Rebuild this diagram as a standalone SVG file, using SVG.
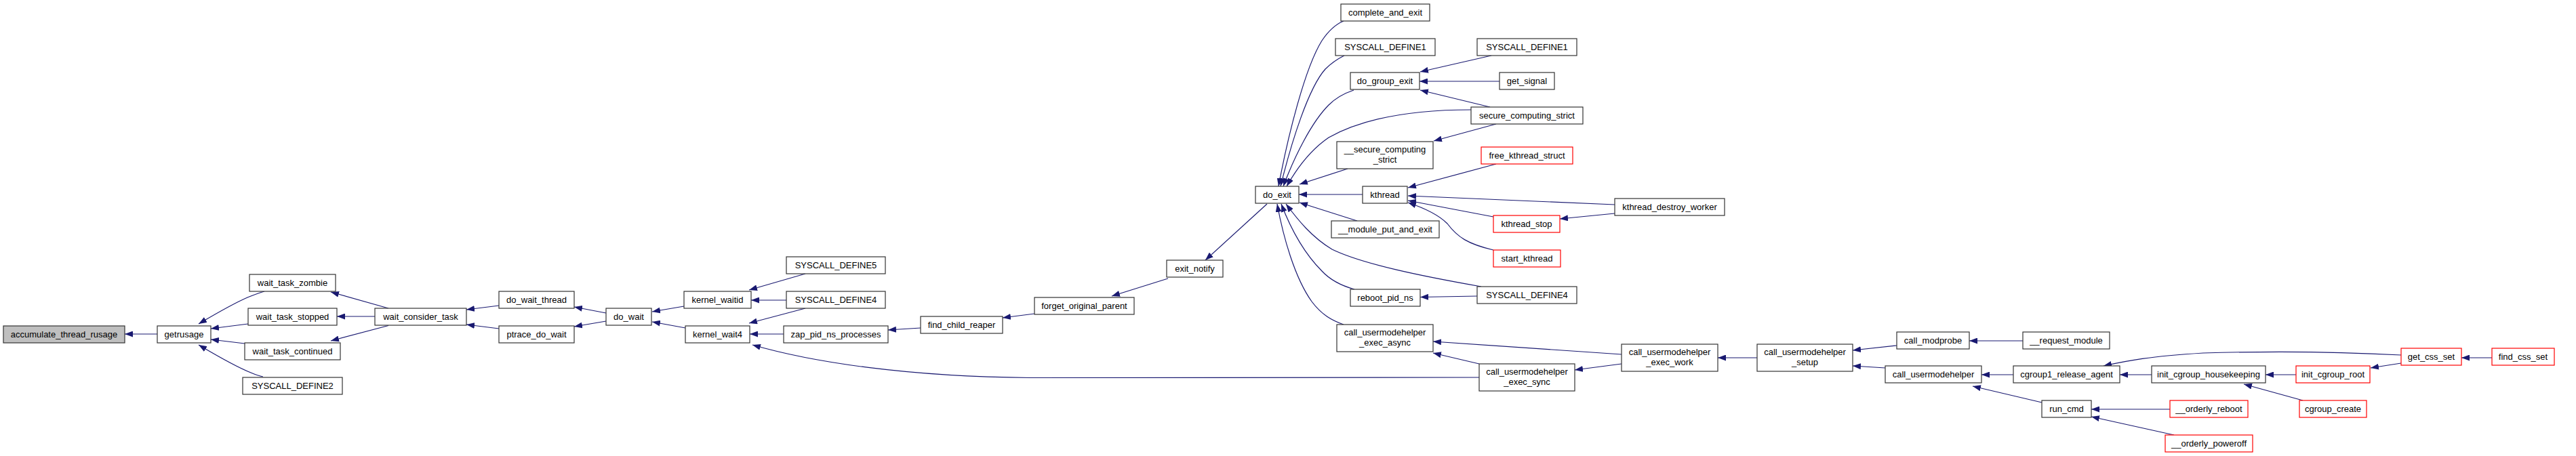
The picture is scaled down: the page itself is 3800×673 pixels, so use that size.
<svg xmlns="http://www.w3.org/2000/svg" width="3800" height="673" viewBox="0 0 3800 673">
<style>
.n rect{fill:#fff;stroke:#333;stroke-width:1.2}
.n.r rect{stroke:#ff0000}
.n.g rect{fill:#bfbfbf}
.n text{font-family:"Liberation Sans",Arial,sans-serif;font-size:13px;fill:#000;text-anchor:middle}
#edges path{fill:none;stroke:#191970;stroke-width:1.2;marker-start:url(#a)}
</style>
<defs>
<marker id="a" markerUnits="userSpaceOnUse" markerWidth="12" markerHeight="9" refX="12" refY="4.5" orient="auto-start-reverse" viewBox="0 0 12 9"><path d="M0,0 L12,4.5 L0,9 z" fill="#191970"/></marker>
</defs>
<rect width="3800" height="673" fill="#fff"/>
<g id="edges">
<path d="M184,493 L232,493"/>
<path d="M293,478 C310,468 340,450 365,439 C375,435 383,432 390,430"/>
<path d="M311,485 L366,478"/>
<path d="M311,501 L361,507"/>
<path d="M293,509 C315,522 345,540 370,550 C377,553 383,555 388,556"/>
<path d="M488,431 L573,455"/>
<path d="M497,467 L553,467"/>
<path d="M488,503 L573,480.5"/>
<path d="M688,457 L736,451"/>
<path d="M688,479 L736,485"/>
<path d="M847,453 L894,462"/>
<path d="M847,482 L894,474"/>
<path d="M962,460 L1009,452"/>
<path d="M962,475 L1011,484"/>
<path d="M1105,428 L1188,404"/>
<path d="M1108,443 L1160,443"/>
<path d="M1105,477 L1188,455"/>
<path d="M1106,493 L1156,493"/>
<path d="M1110,509 C1200,535 1340,556 1520,557.5 L2182,557"/>
<path d="M1310,487 L1358,484"/>
<path d="M1479,469 L1526,463"/>
<path d="M1640,437 L1723,411"/>
<path d="M1778,384 L1869,301"/>
<path d="M1886,275 C1900,200 1925,100 1950,60 C1960,45 1970,36 1982,31"/>
<path d="M1889,275 C1905,210 1930,130 1955,102 C1965,92 1975,86 1983,82"/>
<path d="M1893,275 C1910,230 1935,180 1960,155 C1972,143 1985,137 1997,133"/>
<path d="M1898,275 C1915,245 1935,220 1960,203 C2010,175 2080,162 2170,162"/>
<path d="M1917,272 L1988,249"/>
<path d="M1916,287 L2010,287"/>
<path d="M1917,299 L2002,326"/>
<path d="M1897,301 C1915,325 1935,350 1965,368 C2010,390 2100,408 2185,423"/>
<path d="M1890,301 C1905,340 1925,375 1950,400 C1962,413 1980,422 1998,427"/>
<path d="M1884,301 C1893,350 1910,410 1935,445 C1950,465 1965,473 1982,479"/>
<path d="M2095,106 L2200,82"/>
<path d="M2094,120 L2212,120"/>
<path d="M2095,133 L2198,158"/>
<path d="M2115,208 L2207,183"/>
<path d="M2077,277 L2207,242"/>
<path d="M2077,289 L2382,302"/>
<path d="M2077,296 L2203,320"/>
<path d="M2077,299 C2095,305 2120,315 2135,330 C2150,350 2165,360 2203,369"/>
<path d="M2301,323 L2382,315"/>
<path d="M2095,438.5 L2179,437"/>
<path d="M2114,504 L2392,523"/>
<path d="M2114,521 L2182,537"/>
<path d="M2323,546 L2392,537"/>
<path d="M2534,528 L2592,528"/>
<path d="M2733,517 L2798,510"/>
<path d="M2733,540 L2781,543"/>
<path d="M2905,503 L2984,503"/>
<path d="M2923,553 L2970,553"/>
<path d="M2910,570 L3012,594"/>
<path d="M3127,553 L3174,553"/>
<path d="M3103,540 C3140,532 3170,526 3250,521 C3350,518 3450,519 3542,524"/>
<path d="M3085,604 L3201,604"/>
<path d="M3085,615 L3207,642"/>
<path d="M3342,553 L3387,553"/>
<path d="M3310,567 L3397,591"/>
<path d="M3497,543 L3542,536"/>
<path d="M3631,528 L3676,528"/>
</g>
<g id="n1" class="n g"><rect x="5" y="481" width="179" height="25"/><text x="94.5" y="498">accumulate_thread_rusage</text></g>
<g id="n2" class="n"><rect x="232" y="481" width="79" height="25"/><text x="271.5" y="498">getrusage</text></g>
<g id="n3" class="n"><rect x="368" y="405" width="127" height="25"/><text x="431.5" y="422">wait_task_zombie</text></g>
<g id="n4" class="n"><rect x="366" y="455" width="131" height="25"/><text x="431.5" y="472">wait_task_stopped</text></g>
<g id="n5" class="n"><rect x="361" y="506" width="141" height="25"/><text x="431.5" y="523">wait_task_continued</text></g>
<g id="n6" class="n"><rect x="358" y="557" width="147" height="25"/><text x="431.5" y="574">SYSCALL_DEFINE2</text></g>
<g id="n7" class="n"><rect x="553" y="455" width="135" height="25"/><text x="620.5" y="472">wait_consider_task</text></g>
<g id="n8" class="n"><rect x="736" y="430" width="111" height="25"/><text x="791.5" y="447">do_wait_thread</text></g>
<g id="n9" class="n"><rect x="736" y="481" width="111" height="25"/><text x="791.5" y="498">ptrace_do_wait</text></g>
<g id="n10" class="n"><rect x="894" y="455" width="67" height="25"/><text x="927.5" y="472">do_wait</text></g>
<g id="n11" class="n"><rect x="1009" y="430" width="99" height="25"/><text x="1058.5" y="447">kernel_waitid</text></g>
<g id="n12" class="n"><rect x="1011" y="481" width="95" height="25"/><text x="1058.5" y="498">kernel_wait4</text></g>
<g id="n13" class="n"><rect x="1160" y="379" width="146" height="25"/><text x="1233" y="396">SYSCALL_DEFINE5</text></g>
<g id="n14" class="n"><rect x="1160" y="430" width="146" height="25"/><text x="1233" y="447">SYSCALL_DEFINE4</text></g>
<g id="n15" class="n"><rect x="1156" y="481" width="154" height="25"/><text x="1233" y="498">zap_pid_ns_processes</text></g>
<g id="n16" class="n"><rect x="1358" y="467" width="121" height="25"/><text x="1418.5" y="484">find_child_reaper</text></g>
<g id="n17" class="n"><rect x="1526" y="439" width="147" height="25"/><text x="1599.5" y="456">forget_original_parent</text></g>
<g id="n18" class="n"><rect x="1721" y="384" width="83" height="25"/><text x="1762.5" y="401">exit_notify</text></g>
<g id="n19" class="n"><rect x="1852" y="275" width="64" height="25"/><text x="1884" y="292">do_exit</text></g>
<g id="n20" class="n"><rect x="1978" y="6" width="131" height="25"/><text x="2043.5" y="23">complete_and_exit</text></g>
<g id="n21" class="n"><rect x="1970" y="57" width="147" height="25"/><text x="2043.5" y="74">SYSCALL_DEFINE1</text></g>
<g id="n22" class="n"><rect x="1992" y="107" width="102" height="25"/><text x="2043" y="124">do_group_exit</text></g>
<g id="n23" class="n"><rect x="2170" y="158" width="165" height="25"/><text x="2252.5" y="175">secure_computing_strict</text></g>
<g id="n24" class="n"><rect x="1972" y="209" width="142" height="40"/><text x="2043" y="225">__secure_computing</text><text x="2043" y="240">_strict</text></g>
<g id="n25" class="n"><rect x="2010" y="275" width="66" height="25"/><text x="2043" y="292">kthread</text></g>
<g id="n26" class="n"><rect x="1964" y="326" width="159" height="25"/><text x="2043.5" y="343">__module_put_and_exit</text></g>
<g id="n27" class="n"><rect x="1992" y="427" width="103" height="25"/><text x="2043.5" y="444">reboot_pid_ns</text></g>
<g id="n28" class="n"><rect x="1972" y="479" width="142" height="40"/><text x="2043" y="495">call_usermodehelper</text><text x="2043" y="510">_exec_async</text></g>
<g id="n29" class="n"><rect x="2179" y="57" width="147" height="25"/><text x="2252.5" y="74">SYSCALL_DEFINE1</text></g>
<g id="n30" class="n"><rect x="2212" y="107" width="81" height="25"/><text x="2252.5" y="124">get_signal</text></g>
<g id="n31" class="n r"><rect x="2185" y="217" width="135" height="25"/><text x="2252.5" y="234">free_kthread_struct</text></g>
<g id="n32" class="n r"><rect x="2203" y="318" width="98" height="25"/><text x="2252" y="335">kthread_stop</text></g>
<g id="n33" class="n r"><rect x="2203" y="369" width="99" height="25"/><text x="2252.5" y="386">start_kthread</text></g>
<g id="n34" class="n"><rect x="2382" y="293" width="162" height="25"/><text x="2463" y="310">kthread_destroy_worker</text></g>
<g id="n35" class="n"><rect x="2179" y="423" width="147" height="25"/><text x="2252.5" y="440">SYSCALL_DEFINE4</text></g>
<g id="n36" class="n"><rect x="2182" y="537" width="141" height="40"/><text x="2252.5" y="553">call_usermodehelper</text><text x="2252.5" y="568">_exec_sync</text></g>
<g id="n37" class="n"><rect x="2392" y="508" width="142" height="40"/><text x="2463" y="524">call_usermodehelper</text><text x="2463" y="539">_exec_work</text></g>
<g id="n38" class="n"><rect x="2592" y="508" width="141" height="40"/><text x="2662.5" y="524">call_usermodehelper</text><text x="2662.5" y="539">_setup</text></g>
<g id="n39" class="n"><rect x="2798" y="490" width="107" height="25"/><text x="2851.5" y="507">call_modprobe</text></g>
<g id="n40" class="n"><rect x="2781" y="540" width="142" height="25"/><text x="2852" y="557">call_usermodehelper</text></g>
<g id="n41" class="n"><rect x="2984" y="490" width="128" height="25"/><text x="3048" y="507">__request_module</text></g>
<g id="n42" class="n"><rect x="2970" y="540" width="157" height="25"/><text x="3048.5" y="557">cgroup1_release_agent</text></g>
<g id="n43" class="n"><rect x="3012" y="591" width="73" height="25"/><text x="3048.5" y="608">run_cmd</text></g>
<g id="n44" class="n"><rect x="3174" y="540" width="168" height="25"/><text x="3258" y="557">init_cgroup_housekeeping</text></g>
<g id="n45" class="n r"><rect x="3201" y="591" width="115" height="25"/><text x="3258.5" y="608">__orderly_reboot</text></g>
<g id="n46" class="n r"><rect x="3194" y="642" width="129" height="25"/><text x="3258.5" y="659">__orderly_poweroff</text></g>
<g id="n47" class="n r"><rect x="3387" y="540" width="109" height="25"/><text x="3441.5" y="557">init_cgroup_root</text></g>
<g id="n48" class="n r"><rect x="3392" y="591" width="99" height="25"/><text x="3441.5" y="608">cgroup_create</text></g>
<g id="n49" class="n r"><rect x="3542" y="514" width="89" height="25"/><text x="3586.5" y="531">get_css_set</text></g>
<g id="n50" class="n r"><rect x="3676" y="514" width="92" height="25"/><text x="3722" y="531">find_css_set</text></g>
</svg>
